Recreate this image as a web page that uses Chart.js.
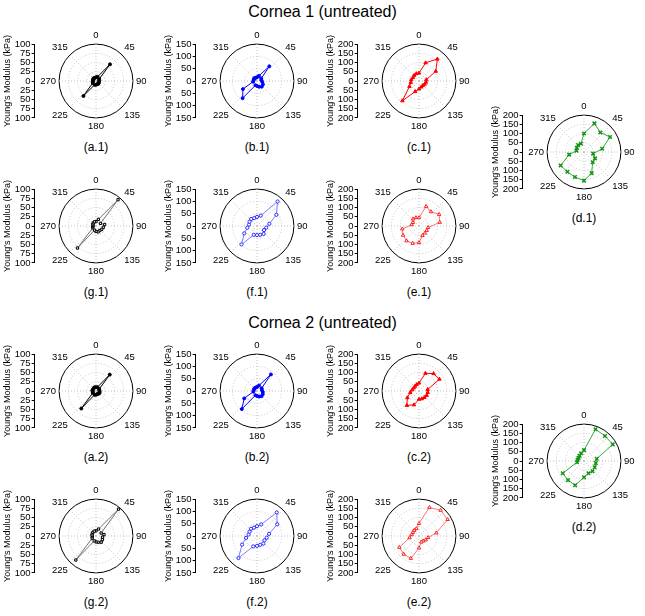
<!DOCTYPE html>
<html>
<head>
<meta charset="utf-8">
<title>Cornea polar plots</title>
<script src="https://cdn.jsdelivr.net/npm/chart.js@4.4.0/dist/chart.umd.min.js"></script>
<style>
  body { margin: 0; background: #fff; font-family: "Liberation Sans", Arial, sans-serif; }
  #fig { position: relative; width: 645px; height: 616px; overflow: hidden; }
  .head { position: absolute; left: 0; width: 645px; text-align: center; font-size: 16px; }
  .sub { position: absolute; width: 80px; margin-left: -40px; text-align: center; font-size: 12px; }
  canvas { position: absolute; }
</style>
</head>
<body>
<div id="fig">
  <div class="head" style="top:3px">Cornea 1 (untreated)</div>
  <div class="head" style="top:314px">Cornea 2 (untreated)</div>
</div>
<script>
// measurement angles (deg), one value per angle
var angles = [0, 20, 40, 60, 80, 100, 120, 140, 160, 180, 200, 220, 240, 260, 280, 300, 320, 340];
var angleTicks = ['0', '45', '90', '135', '180', '225', '270', '315'];

// Young's modulus (kPa) per angle
var a1 = [10, 12, 59, 10, 9, 8, 9, 10, 9, 10, 11, 53, 10, 9, 8, 9, 10, 9];
var b1 = [15, 22, 78, 20, 18, 22, 28, 30, 25, 20, 18, 91, 66, 16, 14, 15, 16, 14];
var c1 = [43, 105, 155, 105, 40, 38, 35, 32, 35, 43, 61, 140, 60, 45, 42, 37, 40, 42];
var d1 = [100, 165, 138, 163, 100, 50, 69, 73, 122, 155, 144, 140, 146, 82, 41, 45, 50, 48];
var g1 = [12, 19, 93, 14, 24, 20, 18, 16, 17, 15, 12, 78, 10, 9, 8, 10, 11, 12];
var f1 = [37, 45, 130, 91, 51, 38, 33, 42, 38, 37, 38, 98, 60, 40, 33, 35, 37, 34];
var e1 = [45, 113, 101, 126, 114, 50, 48, 50, 55, 90, 100, 105, 100, 92, 40, 38, 50, 48];

var a2 = [10, 11, 58, 10, 9, 10, 11, 10, 9, 10, 11, 62, 10, 9, 10, 9, 10, 11];
var b2 = [16, 24, 88, 22, 20, 24, 27, 28, 24, 20, 18, 96, 60, 15, 14, 14, 15, 15];
var c2 = [43, 102, 123, 128, 48, 48, 48, 46, 45, 45, 80, 102, 73, 48, 37, 33, 34, 37];
var d2 = [59, 183, 177, 180, 70, 65, 67, 72, 71, 88, 140, 135, 133, 38, 35, 34, 37, 45];
var g2 = [14, 20, 95, 16, 22, 18, 20, 22, 18, 16, 14, 85, 12, 10, 11, 12, 13, 14];
var f2 = [40, 50, 125, 95, 50, 40, 35, 40, 38, 40, 45, 117, 70, 45, 35, 35, 38, 36];
var e2 = [68, 165, 182, 179, 95, 50, 42, 35, 35, 65, 129, 129, 123, 52, 40, 38, 40, 42];

var FONT = '"Liberation Sans", Arial, sans-serif';

var looks = {
    a: { color: '#000000', line: '#000000', style: 'circle', fill: true, r: 1.5, w: 1 },
    g: { color: '#000000', line: '#555555', style: 'rect', fill: false, r: 1.6, w: 0.8 },
    b: { color: '#0000ff', line: '#0000ff', style: 'circle', fill: true, r: 1.5, w: 1 },
    f: { color: '#2a2aff', line: '#5a5aff', style: 'circle', fill: false, r: 1.6, w: 0.8 },
    c: { color: '#ff0000', line: '#ff0000', style: 'triangle', fill: true, r: 2, w: 1 },
    e: { color: '#ff2020', line: '#ff5050', style: 'triangle', fill: false, r: 2, w: 0.8 },
    d: { color: '#149414', line: '#3aa83a', style: 'crossRot', fill: false, r: 2.5, w: 1 }
};

// 5 degree grid so both the 20 deg data and the 45 deg spokes sit on labels
var gridLabels = [];
for (var k = 0; k < 72; k++) gridLabels.push(String(k * 5));

function onGrid(vals) {
    var out = gridLabels.map(function () { return null; });
    angles.forEach(function (a, i) { out[a / 5] = vals[i]; });
    return out;
}

// stretch the left axis so it spans the circle's diameter
var axisToCircle = {
    id: 'axisToCircle',
    afterLayout: function (chart) {
        var r = chart.scales.r, y = chart.scales.y;
        y.top = r.yCenter - r.drawingArea;
        y.bottom = r.yCenter + r.drawingArea;
        y.height = y.bottom - y.top;
        y.configure();
    }
};

var fig = document.getElementById('fig');

function polar(name, cx, cy, values, max, look) {
    var cv = document.createElement('canvas');
    cv.width = 153;
    cv.height = 116;
    cv.style.left = (cx - 95) + 'px';
    cv.style.top = (cy - 58) + 'px';
    fig.appendChild(cv);

    var lab = document.createElement('div');
    lab.className = 'sub';
    lab.style.left = cx + 'px';
    lab.style.top = (cy + 58) + 'px';
    lab.textContent = '(' + name + ')';
    fig.appendChild(lab);

    var step = max === 100 ? 25 : 50;
    new Chart(cv, {
        type: 'radar',
        data: {
            labels: gridLabels,
            datasets: [{
                data: onGrid(values),
                borderColor: look.line,
                borderWidth: look.w,
                fill: false,
                spanGaps: true,
                pointStyle: look.style,
                pointRadius: look.r,
                pointBorderWidth: look.style === 'crossRot' ? 1.5 : 1,
                pointBorderColor: look.color,
                pointBackgroundColor: look.fill ? look.color : '#ffffff'
            }]
        },
        options: {
            responsive: false,
            animation: false,
            plugins: { legend: { display: false }, tooltip: { enabled: false } },
            layout: { padding: 0 },
            scales: {
                r: {
                    min: 0,
                    max: max,
                    ticks: { display: false, stepSize: step },
                    grid: {
                        circular: true,
                        color: function (ctx) { return ctx.tick && ctx.tick.value === max ? '#000000' : '#c4c4c4'; }
                    },
                    border: {
                        dash: function (ctx) { return ctx.tick && ctx.tick.value === max ? [] : [1, 2]; }
                    },
                    angleLines: {
                        color: '#c4c4c4',
                        lineWidth: function (ctx) { return ctx.index % 9 === 0 ? 1 : 0; },
                        borderDash: [1, 2]
                    },
                    pointLabels: {
                        color: '#000',
                        padding: 3,
                        font: { size: 9.5, family: FONT },
                        callback: function (label, i) { return i % 9 === 0 ? angleTicks[i / 9] : ''; }
                    }
                },
                y: {
                    type: 'linear',
                    position: 'left',
                    min: -max,
                    max: max,
                    ticks: {
                        stepSize: step,
                        autoSkip: false,
                        padding: 1,
                        color: '#000',
                        font: { size: 9.5, family: FONT },
                        callback: function (v) { return Math.abs(v); }
                    },
                    grid: { drawOnChartArea: false, drawTicks: true, tickLength: 3, color: '#000' },
                    border: { color: '#000', width: 1 },
                    title: {
                        display: true,
                        text: "Young's Modulus (kPa)",
                        color: '#000',
                        padding: 1,
                        font: { size: 9, family: FONT }
                    }
                }
            }
        },
        plugins: [axisToCircle]
    });
}

polar('a.1', 96, 82, a1, 100, looks.a);
polar('b.1', 257, 82, b1, 150, looks.b);
polar('c.1', 419, 82, c1, 200, looks.c);
polar('d.1', 584, 153, d1, 200, looks.d);
polar('g.1', 96, 227, g1, 100, looks.g);
polar('f.1', 257, 227, f1, 150, looks.f);
polar('e.1', 419, 227, e1, 200, looks.e);

polar('a.2', 96, 392, a2, 100, looks.a);
polar('b.2', 257, 392, b2, 150, looks.b);
polar('c.2', 419, 392, c2, 200, looks.c);
polar('d.2', 584, 462, d2, 200, looks.d);
polar('g.2', 96, 537, g2, 100, looks.g);
polar('f.2', 257, 537, f2, 150, looks.f);
polar('e.2', 419, 537, e2, 200, looks.e);
</script>
</body>
</html>
